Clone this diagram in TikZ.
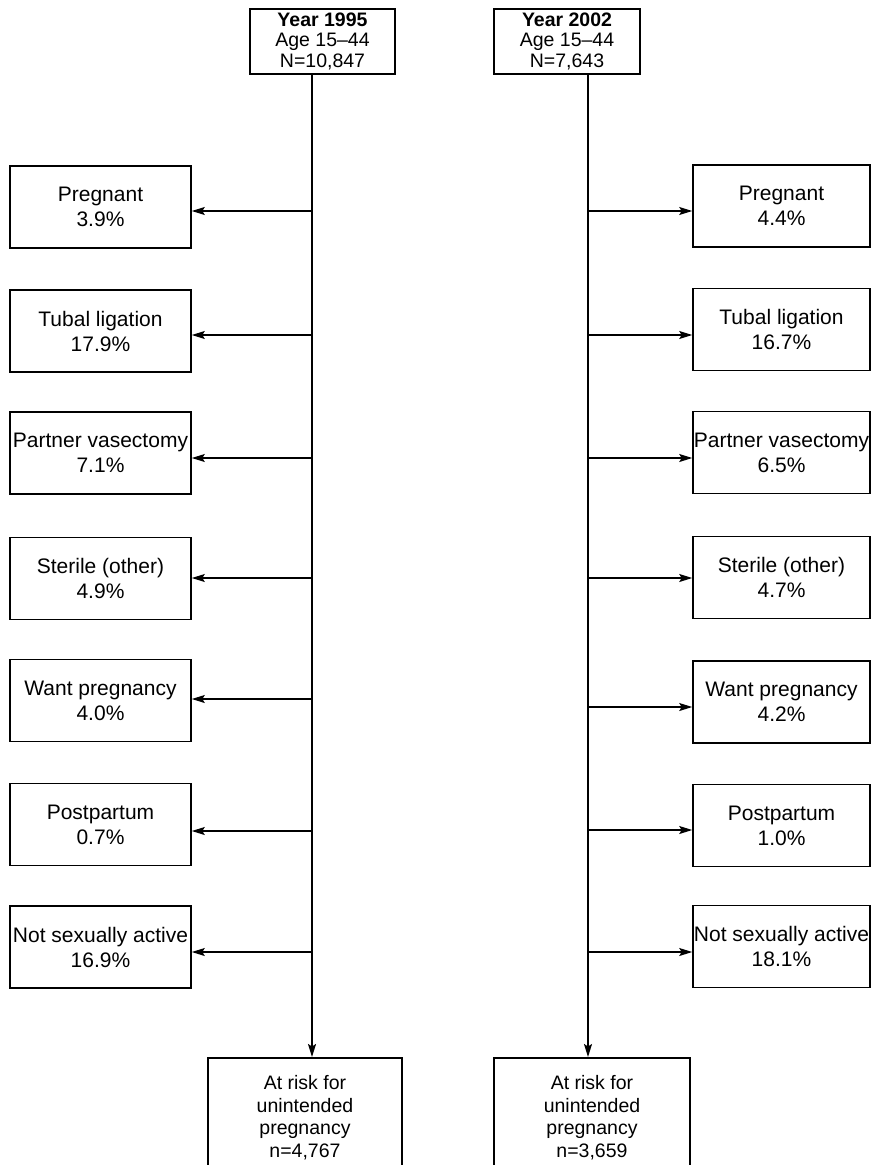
\documentclass[tikz,border=0pt]{standalone}
\usepackage{fontspec}
\setmainfont{Liberation Sans}
\usetikzlibrary{arrows.meta}
\begin{document}
\begin{tikzpicture}[x=1pt,y=-1pt,
  box/.style={draw=black, line width=1.6pt, rectangle, align=center, inner xsep=0.5pt},
  sidebox/.style={box, minimum height=82pt, font=\fontsize{21}{25}\selectfont},
  lbox/.style={sidebox, minimum width=181pt},
  rbox/.style={sidebox, minimum width=177pt},
  topbox/.style={box, anchor=north, inner ysep=4pt, font=\fontsize{19.5}{20.5}\selectfont},
  botbox/.style={box, anchor=north, inner ysep=18pt, font=\fontsize{19.5}{22.5}\selectfont},
  tip/.style={-{Stealth[length=13pt,width=8pt,inset=2.5pt]}},
  arr/.style={line width=1.4pt, tip},
  trunk/.style={line width=1.5pt, tip}
]
\useasboundingbox (0,0) rectangle (871,1165);
\clip (0,0) rectangle (871,1165);

% top boxes
\node[topbox, minimum width=145pt] (tL) at (322.5,8) {\textbf{Year 1995}\\Age 15--44\\N=10,847};
\node[topbox, minimum width=146pt] (tR) at (567,8) {\textbf{Year 2002}\\Age 15--44\\N=7,643};

% bottom boxes
\node[botbox, minimum width=194pt] (bL) at (305,1057) {At risk for\\unintended\\pregnancy\\n=4,767};
\node[botbox, minimum width=196pt] (bR) at (592,1057) {At risk for\\unintended\\pregnancy\\n=3,659};

% left side boxes
\node[lbox] (l1) at (100.5,207) {Pregnant\\3.9\%};
\node[lbox] (l2) at (100.5,331) {Tubal ligation\\17.9\%};
\node[lbox] (l3) at (100.5,453) {Partner vasectomy\\7.1\%};
\node[lbox] (l4) at (100.5,578.5) {Sterile (other)\\4.9\%};
\node[lbox] (l5) at (100.5,700.5) {Want pregnancy\\4.0\%};
\node[lbox] (l6) at (100.5,824.5) {Postpartum\\0.7\%};
\node[lbox] (l7) at (100.5,947) {Not sexually active\\16.9\%};

% right side boxes
\node[rbox] (r1) at (781.5,206) {Pregnant\\4.4\%};
\node[rbox] (r2) at (781.5,329.5) {Tubal ligation\\16.7\%};
\node[rbox] (r3) at (781.5,452.5) {Partner vasectomy\\6.5\%};
\node[rbox] (r4) at (781.5,577.5) {Sterile (other)\\4.7\%};
\node[rbox] (r5) at (781.5,702) {Want pregnancy\\4.2\%};
\node[rbox] (r6) at (781.5,825.5) {Postpartum\\1.0\%};
\node[rbox] (r7) at (781.5,946.5) {Not sexually active\\18.1\%};

% trunk x positions
\coordinate (xL) at (312,0);
\coordinate (xR) at (588,0);

\draw[trunk] (tL.south -| xL) -- (bL.north -| xL);
\draw[trunk] (tR.south -| xR) -- (bR.north -| xR);

% branches
\foreach \i/\y in {1/211,2/335,3/458,4/578,5/699,6/831,7/952}{
  \coordinate (pl\i) at (312,\y);
  \draw[arr] (pl\i) -- (pl\i -| l\i.east);
}
\foreach \i/\y in {1/211,2/335,3/458,4/578,5/707,6/830,7/952}{
  \coordinate (pr\i) at (588,\y);
  \draw[arr] (pr\i) -- (pr\i -| r\i.west);
}
\end{tikzpicture}
\end{document}
